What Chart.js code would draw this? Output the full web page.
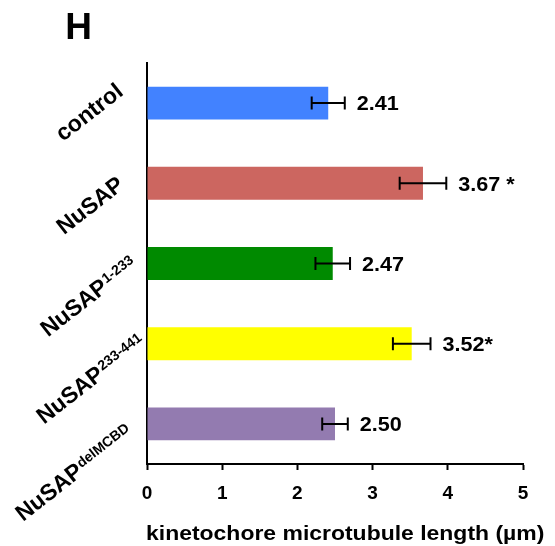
<!DOCTYPE html>
<html><head><meta charset="utf-8">
<script src="https://cdn.jsdelivr.net/npm/chart.js@4.4.0/dist/chart.umd.min.js"></script>
<style>html,body{margin:0;padding:0;background:#fff;}</style>
</head><body>
<canvas id="c" width="555" height="546"></canvas>
<script>
// ---- data ----
const categoryNames = ['control', 'NuSAP', 'NuSAP', 'NuSAP', 'NuSAP'];
const categorySups = ['', '', '1-233', '233-441', 'delMCBD'];
const values = [2.41, 3.67, 2.47, 3.52, 2.50];
const errors = [0.22, 0.31, 0.23, 0.25, 0.17];
const significance = ['', ' *', '', '*', ''];
const barColors = ['#4282FF', '#CC6660', '#008A00', '#FFFF00', '#937BB0'];
const xTicks = [0, 1, 2, 3, 4, 5];
const xTitle = 'kinetochore microtubule length (\u00B5m)';
const panelLetter = 'H';

// ---- layout constants (not data) ----
const FONT = '"Liberation Sans", Arial, sans-serif';
const labelOffsets = [[-84, 39], [-83, 52], [-99, 74], [-103, 81], [-124, 98]];
const LABEL_ANGLE = 38;

const labels = categoryNames.map((n, i) => n + categorySups[i]);

const annot = {
  id: 'annot',
  afterDatasetsDraw(chart) {
    const ctx = chart.ctx, xs = chart.scales.x, ys = chart.scales.y;
    ctx.save();
    ctx.strokeStyle = '#000';
    ctx.fillStyle = '#000';
    ctx.lineWidth = 2;
    values.forEach((v, i) => {
      const y = ys.getPixelForValue(i);
      const x1 = xs.getPixelForValue(v - errors[i]);
      const x2 = xs.getPixelForValue(v + errors[i]);
      ctx.beginPath();
      ctx.moveTo(x1, y); ctx.lineTo(x2, y);
      ctx.moveTo(x1, y - 6.5); ctx.lineTo(x1, y + 6.5);
      ctx.moveTo(x2, y - 6.5); ctx.lineTo(x2, y + 6.5);
      ctx.stroke();
      ctx.save();
      ctx.font = 'bold 20px ' + FONT;
      ctx.textAlign = 'left';
      ctx.textBaseline = 'alphabetic';
      ctx.translate(x2 + 12, y + 7.2);
      ctx.scale(1.08, 1);
      ctx.fillText(v.toFixed(2) + significance[i], 0, 0);
      ctx.restore();
    });
    ctx.restore();
  },
  afterDraw(chart) {
    const ctx = chart.ctx, ys = chart.scales.y;
    const left = chart.chartArea.left;
    ctx.save();
    ctx.fillStyle = '#000';
    ctx.textBaseline = 'alphabetic';
    ctx.textAlign = 'left';
    categoryNames.forEach((name, i) => {
      const yc = ys.getPixelForValue(i);
      const [dx, dy] = labelOffsets[i];
      ctx.save();
      ctx.translate(left + dx, yc + dy);
      ctx.rotate(-LABEL_ANGLE * Math.PI / 180);
      ctx.font = 'bold 23px ' + FONT;
      ctx.fillText(name, 0, 0);
      const w = ctx.measureText(name).width;
      if (categorySups[i]) {
        ctx.font = 'bold 14px ' + FONT;
        ctx.fillText(categorySups[i], w + 1, -6.5);
      }
      ctx.restore();
    });
    ctx.font = 'bold 37px ' + FONT;
    ctx.textAlign = 'center';
    ctx.fillText(panelLetter, 78.5, 39);
    ctx.save();
    ctx.font = 'bold 21px ' + FONT;
    ctx.textAlign = 'left';
    ctx.translate(146, 540);
    ctx.scale(1.093, 1);
    ctx.fillText(xTitle, 0, 0);
    ctx.restore();
    ctx.restore();
  }
};

new Chart(document.getElementById('c').getContext('2d'), {
  type: 'bar',
  data: {
    labels: labels,
    datasets: [{
      data: values,
      backgroundColor: barColors,
      borderWidth: 0,
      barPercentage: 0.41,
      categoryPercentage: 1
    }]
  },
  options: {
    indexAxis: 'y',
    responsive: false,
    animation: false,
    devicePixelRatio: 1,
    layout: { padding: { top: 63, right: 32, left: 0, bottom: 0 } },
    plugins: { legend: { display: false }, tooltip: { enabled: false }, title: { display: false } },
    scales: {
      x: {
        type: 'linear', min: 0, max: 5, position: 'bottom',
        afterBuildTicks: s => { s.ticks = xTicks.map(v => ({ value: v })); },
        afterFit: s => { s.height = 82; s.paddingLeft = 0; s.paddingRight = 0; },
        ticks: { color: '#000', font: { family: FONT, size: 19, weight: 'bold' }, padding: 12, maxRotation: 0, autoSkip: false },
        grid: { display: true, drawOnChartArea: false, drawTicks: true, tickLength: 6, tickWidth: 2, tickColor: '#000', color: '#000' },
        border: { display: true, color: '#000', width: 2 }
      },
      y: {
        type: 'category', position: 'left',
        afterFit: s => { s.width = 147; s.paddingTop = 0; s.paddingBottom = 0; },
        ticks: { display: false },
        grid: { display: false },
        border: { display: true, color: '#000', width: 2 }
      }
    }
  },
  plugins: [annot]
});
</script>
</body></html>
